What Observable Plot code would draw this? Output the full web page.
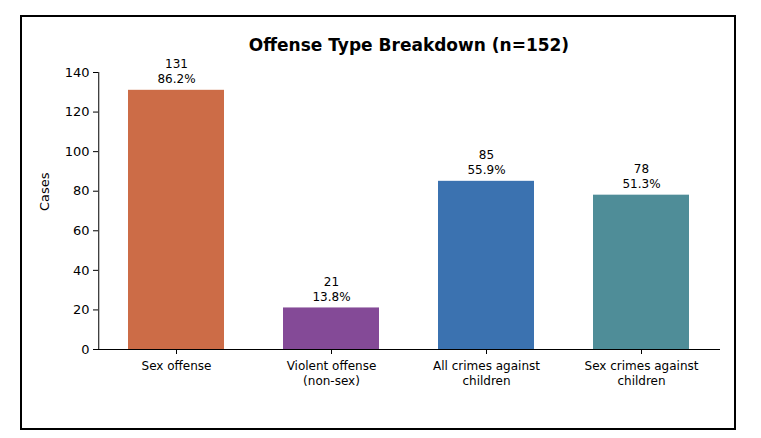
<!DOCTYPE html>
<html><head>
<script src="https://cdn.jsdelivr.net/npm/d3@7"></script>
<script src="https://cdn.jsdelivr.net/npm/@observablehq/plot@0.6"></script>
<style>
body{margin:0;background:#fff;font-family:"DejaVu Sans",sans-serif;}
#wrap{position:relative;width:761px;height:438px;}
#border{position:absolute;left:20px;top:15px;width:716px;height:415px;border:2px solid #000;box-sizing:border-box;}
#title{position:absolute;left:98px;width:622px;top:35px;text-align:center;font-weight:bold;font-size:17px;}
#chart{position:absolute;left:0;top:0;}
</style></head><body>
<div id="wrap"><div id="chart"></div><div id="border"></div><div id="title">Offense Type Breakdown (n=152)</div></div>
<script>
const categories=["Sex offense","Violent offense\n(non-sex)","All crimes against\nchildren","Sex crimes against\nchildren"];
const counts=[131,21,85,78];
const percents=["86.2%","13.8%","55.9%","51.3%"];
const colors=["#CC6C47","#844A97","#3B72B0","#4F8D98"];
const yTicks=[0,20,40,60,80,100,120,140];
const data=categories.map((c,i)=>({c,v:counts[i],label:counts[i]+"\n"+percents[i],col:colors[i]}));
const p=Plot.plot({
 width:761,height:438,marginLeft:98,marginRight:41,marginTop:72,marginBottom:89,
 style:{fontFamily:"DejaVu Sans",fontSize:"12px",color:"#000"},
 x:{domain:categories,paddingInner:0.38,paddingOuter:0.19,label:null},
 y:{domain:[0,140],label:null},
 marks:[
  Plot.barY(data,{x:"c",y:"v",fill:"col"}),
  Plot.text(data,{x:"c",y:"v",text:"label",dy:-7,lineAnchor:"bottom",fontSize:12,lineHeight:1.25}),
  Plot.axisY({ticks:yTicks,tickSize:5,fontSize:13,label:null}),
  Plot.ruleX([0],{x:()=>categories[0],dx:-77.75,y1:0,y2:140}),
  Plot.ruleY([0]),
  Plot.axisX({tickSize:5,fontSize:12,lineHeight:1.3,label:null}),
  Plot.text(["Cases"],{frameAnchor:"left",dx:-54,rotate:-90,fontSize:13})
 ]
});
document.getElementById("chart").appendChild(p);
</script></body></html>
